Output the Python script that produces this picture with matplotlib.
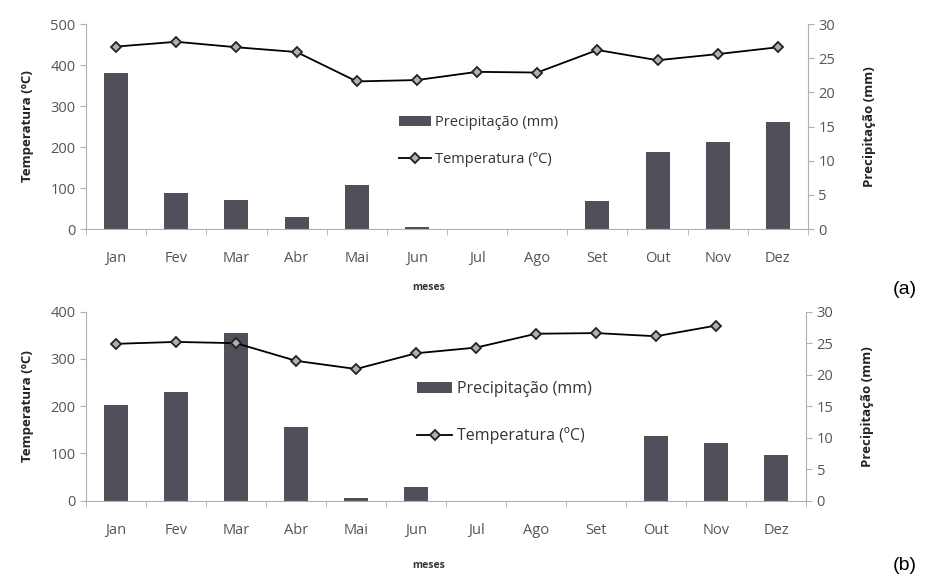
import numpy as np
import matplotlib.pyplot as plt

meses = ["Jan", "Fev", "Mar", "Abr", "Mai", "Jun", "Jul", "Ago", "Set", "Out", "Nov", "Dez"]

# painel (a)
prec_a = [380, 87, 71, 30, 107, 5, 0, 0, 68, 188, 213, 261]
temp_a = [26.7, 27.4, 26.6, 25.9, 21.6, 21.8, 23.0, 22.9, 26.2, 24.7, 25.6, 26.6]

# painel (b)
prec_b = [203, 229, 354, 157, 6, 28, 0, 0, 0, 137, 122, 97]
temp_b = [24.9, 25.2, 25.0, 22.2, 20.9, 23.4, 24.3, 26.5, 26.6, 26.1, 27.8, np.nan]

plt.rcParams['font.family'] = ['Open Sans', 'DejaVu Sans']

bar_color = '#50505a'
tick_color = '#555555'
spine_color = '#b0b0b0'


def painel(fig, rect, prec, temp, ymax, ystep, leg_pos, leg_space, leg_size, meses_y):
    ax = fig.add_axes(rect)
    x = np.arange(len(meses))
    ax.bar(x, prec, width=0.4, color=bar_color, label='Precipitação (mm)', zorder=2)
    ax.set_xlim(-0.5, len(meses) - 0.5)
    ax.set_ylim(0, ymax)
    ax.set_yticks(np.arange(0, ymax + 1, ystep))
    ax.set_xticks(x)
    ax.set_xticklabels(meses)
    ax.set_xticks(np.arange(-0.5, len(meses), 1), minor=True)
    ax.tick_params(axis='x', which='major', length=0, pad=16, labelsize=10.5, colors=tick_color)
    ax.tick_params(axis='x', which='minor', length=4, direction='out', color=spine_color)
    ax.tick_params(axis='y', length=4, direction='out', color=spine_color, labelsize=10.5,
                   labelcolor=tick_color)
    for s in ['top', 'right']:
        ax.spines[s].set_visible(False)
    for s in ['left', 'bottom']:
        ax.spines[s].set_color(spine_color)
    ax.set_ylabel('Temperatura (ºC)', fontsize=9.5, fontweight='bold', labelpad=12, color='#222222')

    ax2 = ax.twinx()
    ax2.plot(x, temp, color='black', lw=1.3, marker='D', ms=5, mfc='#b0b0b0',
             mec='#222222', mew=1.3, label='Temperatura (ºC)', zorder=3)
    ax2.set_ylim(0, 30)
    ax2.set_yticks(np.arange(0, 31, 5))
    ax2.tick_params(axis='y', length=4, direction='out', color=spine_color, labelsize=10.5,
                    labelcolor=tick_color)
    for s in ['top', 'left', 'bottom']:
        ax2.spines[s].set_visible(False)
    ax2.spines['right'].set_color(spine_color)
    ax2.set_ylabel('Precipitação (mm)', fontsize=9.5, fontweight='bold', labelpad=20, color='#222222')

    h1, l1 = ax.get_legend_handles_labels()
    h2, l2 = ax2.get_legend_handles_labels()
    ax2.legend(h1 + h2, l1 + l2, loc='upper left', bbox_to_anchor=leg_pos,
               frameon=False, fontsize=leg_size, handlelength=2.2, labelspacing=leg_space,
               handletextpad=0.3, labelcolor='#333333')

    fig.text(0.463, meses_y, 'meses', fontsize=7.5, fontweight='bold', ha='center', va='center',
             color='#333333')
    return ax, ax2


fig = plt.figure(figsize=(9.25, 5.76), dpi=100)

painel(fig, [0.093, 0.6024, 0.7805, 0.3559], prec_a, temp_a, 500, 100, (0.415, 0.62), 1.5, 10.5,
       1 - 288 / 576)
painel(fig, [0.093, 0.1307, 0.7785, 0.3282], prec_b, temp_b, 400, 100, (0.44, 0.71), 1.9, 11.5,
       1 - 566 / 576)

fig.text(0.978, 1 - 290 / 576, '(a)', fontsize=14, ha='center', va='center', family='Liberation Sans')
fig.text(0.978, 1 - 566 / 576, '(b)', fontsize=14, ha='center', va='center', family='Liberation Sans')

fig.savefig('out.png', dpi=100, facecolor='white')
